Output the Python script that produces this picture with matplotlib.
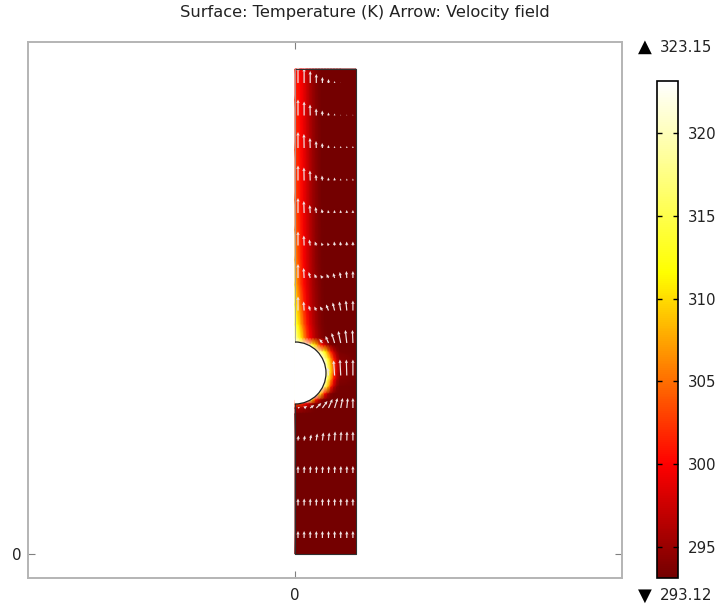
import numpy as np
import matplotlib
matplotlib.use("Agg")
import matplotlib.pyplot as plt
from matplotlib.colors import LinearSegmentedColormap
from matplotlib.patches import Arc, Wedge

# geometry of the channel (same unit on both axes)
channel_width = 61
channel_height = 485
hole_y = 181
hole_r = 31

t_min = 293.12
t_max = 323.15
bar_ticks = [295, 300, 305, 310, 315, 320]

# temperature, rows from top to bottom
temp_x = [0, 3, 6, 9, 12, 15, 18, 21, 24, 27, 30, 33, 36, 39, 42, 45, 61]
temp_y = [485, 454, 404, 354, 324, 294, 269, 249, 229, 216, 209, 202, 195, 188,
          181, 174, 167, 160, 154, 150, 146, 140, 0]
temp = [
    [300.8, 300.4, 299.8, 298.6, 297.2, 295.8, 294.8, 294, 293.5, 293.2, 293.2, 293.2, 293.2, 293.2, 293.2, 293.2, 293.2],
    [301.5, 301, 300, 298.8, 297.4, 296, 294.9, 294.1, 293.5, 293.2, 293.2, 293.2, 293.2, 293.2, 293.2, 293.2, 293.2],
    [302.5, 301.5, 300.3, 299, 297.6, 296.2, 295, 294.2, 293.6, 293.2, 293.2, 293.2, 293.2, 293.2, 293.2, 293.2, 293.2],
    [303.5, 302, 300.6, 299.2, 297.8, 296.4, 295.2, 294.3, 293.7, 293.2, 293.2, 293.2, 293.2, 293.2, 293.2, 293.2, 293.2],
    [305, 302.8, 301, 299.4, 298, 296.6, 295.4, 294.4, 293.8, 293.3, 293.2, 293.2, 293.2, 293.2, 293.2, 293.2, 293.2],
    [307, 304, 301.6, 299.8, 298.2, 296.8, 295.5, 294.5, 293.8, 293.3, 293.2, 293.2, 293.2, 293.2, 293.2, 293.2, 293.2],
    [309.5, 305.5, 302.5, 300.3, 298.5, 297, 295.7, 294.7, 294, 293.4, 293.2, 293.2, 293.2, 293.2, 293.2, 293.2, 293.2],
    [312, 308, 304.5, 301.5, 299.2, 297.4, 296, 294.9, 294.1, 293.5, 293.2, 293.2, 293.2, 293.2, 293.2, 293.2, 293.2],
    [316, 311.5, 307.5, 304, 301, 298.6, 296.8, 295.4, 294.4, 293.7, 293.3, 293.2, 293.2, 293.2, 293.2, 293.2, 293.2],
    [320, 315.5, 311, 306.5, 302.8, 300, 297.8, 296, 294.8, 294, 293.4, 293.2, 293.2, 293.2, 293.2, 293.2, 293.2],
    [323, 323, 323, 323, 323, 318, 313, 308.5, 304, 300.5, 297.5, 295, 293.8, 293.3, 293.2, 293.2, 293.2],
    [323, 323, 323, 323, 323, 323, 323, 323, 320, 316, 311.5, 306, 301, 297, 294.7, 293.5, 293.2],
    [323, 323, 323, 323, 323, 323, 323, 323, 323, 323, 319, 313, 306.5, 301, 296.8, 294.3, 293.2],
    [323, 323, 323, 323, 323, 323, 323, 323, 323, 323, 323, 316, 309, 303, 298, 294.8, 293.2],
    [323, 323, 323, 323, 323, 323, 323, 323, 323, 323, 323, 317, 309.5, 302.5, 297.5, 294.5, 293.2],
    [323, 323, 323, 323, 323, 323, 323, 323, 323, 323, 321, 314.5, 306.5, 300, 296, 294, 293.2],
    [323, 323, 323, 323, 323, 323, 323, 323, 323, 323, 316, 308.5, 301, 296.5, 294, 293.3, 293.2],
    [323, 323, 323, 323, 323, 323, 323, 323, 315, 307, 300, 296, 294, 293.3, 293.2, 293.2, 293.2],
    [323, 323, 323, 323, 323, 317, 308, 301, 297, 294.5, 293.4, 293.2, 293.2, 293.2, 293.2, 293.2, 293.2],
    [303, 303, 302.5, 301, 299, 297, 295, 294, 293.3, 293.2, 293.2, 293.2, 293.2, 293.2, 293.2, 293.2, 293.2],
    [296, 296, 295.6, 295, 294.5, 294, 293.5, 293.2, 293.2, 293.2, 293.2, 293.2, 293.2, 293.2, 293.2, 293.2, 293.2],
    [293.2, 293.2, 293.2, 293.2, 293.2, 293.2, 293.2, 293.2, 293.2, 293.2, 293.2, 293.2, 293.2, 293.2, 293.2, 293.2, 293.2],
    [293.2, 293.2, 293.2, 293.2, 293.2, 293.2, 293.2, 293.2, 293.2, 293.2, 293.2, 293.2, 293.2, 293.2, 293.2, 293.2, 293.2],
]

# velocity arrows: tail positions and length components, rows from top to bottom
arrow_x = [3, 9.1, 15.2, 21.3, 27.4, 33.5, 39.6, 45.7, 51.8, 57.9]
arrow_y = [471, 438.5, 406, 373.5, 341, 308.5, 276, 243.5, 211, 178.5, 146, 113.5, 81, 48.5, 16]
nan = float("nan")
arrow_v = [
    [16, 15, 12, 9, 6, 4, 2, 0.5, nan, nan],
    [16, 14, 11, 7, 5, 3, 2, 1, 1, 1],
    [16, 14, 10, 7, 5, 3, 2, 2, 2, 2],
    [15, 13, 10, 6, 5, 3, 3, 2, 2, 2],
    [15, 12, 8, 6, 4, 3, 3, 3, 3, 3],
    [14, 10, 6, 4, 3, 3, 4, 4, 4, 4],
    [14, 10, 6, 4, 3, 4, 5, 6, 7, 7],
    [14, 9, 5, 4, 4, 6, 8, 9, 10, 10],
    [nan, nan, nan, nan, 4, 7, 10, 12, 13, 13],
    [nan, nan, nan, nan, nan, 8, 15, 16, 16, 16],
    [1, 2, 3, 5, 7, 9, 10, 10, 10, 10],
    [5, 5, 6, 7, 8, 8, 9, 9, 9, 9],
    [7, 7, 7, 7, 7, 7, 7, 7, 7, 7],
    [7, 7, 7, 7, 7, 7, 7, 7, 7, 7],
    [7, 7, 7, 7, 7, 7, 7, 7, 7, 7],
]
arrow_u = [
    [0, 0, 0, 0, 0, 0, 0, 0, nan, nan],
    [0, 0, -0.2, -0.2, -0.2, -0.2, 0, 0, 0, 0],
    [0, -0.2, -0.3, -0.3, -0.3, -0.2, -0.2, 0, 0, 0],
    [0, -0.2, -0.3, -0.5, -0.5, -0.3, -0.2, -0.2, 0, 0],
    [0, -0.3, -0.5, -0.8, -0.8, -0.5, -0.3, -0.2, -0.1, 0],
    [0, -0.3, -1, -1.5, -1, -1, -0.5, -0.5, -0.2, 0],
    [0, -0.5, -1.5, -2, -2, -2, -1.5, -1, -0.5, 0],
    [0, -0.5, -1.5, -2, -2.5, -2.5, -2, -1.5, -1, 0],
    [nan, nan, nan, nan, -3, -3, -3, -2.5, -1.5, -0.5],
    [nan, nan, nan, nan, nan, -1, -1, -0.8, -0.5, 0],
    [2, 3, 4, 5, 5, 4, 3, 2, 1, 0],
    [0.5, 0.8, 1, 1, 1, 0.8, 0.5, 0.5, 0.2, 0],
    [0, 0.2, 0.3, 0.3, 0.3, 0.3, 0.2, 0.2, 0.1, 0],
    [0, 0.1, 0.1, 0.1, 0.1, 0.1, 0.1, 0.1, 0.1, 0],
    [0, 0, 0, 0, 0, 0, 0, 0, 0, 0],
]

W, H = 717, 607


def px_axes(left, top, right, bottom):
    return fig.add_axes([left / W, 1 - bottom / H, (right - left) / W, (bottom - top) / H])


thermal = LinearSegmentedColormap.from_list(
    "thermal_light",
    [(0, "#740000"), (0.229, "#ff0000"), (0.615, "#ffff00"), (1, "#ffffff")],
)

fig = plt.figure(figsize=(W / 100, H / 100), dpi=100)
ax = px_axes(28, 42, 622, 578)

mesh = ax.pcolormesh(temp_x, temp_y, np.array(temp), shading="gouraud", cmap=thermal, vmin=t_min, vmax=t_max)
ax.add_patch(Wedge((0, hole_y), hole_r, -90, 90, facecolor="white", edgecolor="none", zorder=3))

X, Y = np.meshgrid(arrow_x, arrow_y)
ax.quiver(X, Y, np.array(arrow_u), np.array(arrow_v), angles="xy", scale_units="xy", scale=1,
          color="#f0e4e4", units="dots", width=1.2, headwidth=2.8, headlength=3, headaxislength=2.6,
          minlength=0.1, zorder=4)

# domain outline with the half circle cut out of the wall
ax.plot([0, channel_width, channel_width, 0, 0],
        [channel_height, channel_height, 0, 0, hole_y - hole_r],
        color="#303030", lw=0.8, zorder=5)
ax.plot([0, 0], [hole_y + hole_r, channel_height], color="#a0a0a0", lw=0.6, zorder=5)
ax.add_patch(Arc((0, hole_y), 2 * hole_r, 2 * hole_r, theta1=-90, theta2=90, color="#202020", lw=0.9, zorder=5))

ax.set_xlim(-267, 327)
ax.set_ylim(-24, 512)
ax.set_aspect("auto")
ax.set_xticks([0])
ax.set_yticks([0])
ax.tick_params(direction="in", length=5, width=0.8, color="#808080", top=True, right=True,
               labelsize=10.8, pad=5, labelcolor="#222222")
ax.tick_params(axis="x", pad=7)
for spine in ax.spines.values():
    spine.set_color("#b4b4b4")
    spine.set_linewidth(1.4)

fig.text(365 / W, 1 - 13 / H, "Surface: Temperature (K) Arrow: Velocity field",
         ha="center", va="center", fontsize=11.7, color="#222222")

cax = px_axes(657, 81, 678, 578)
cbar = fig.colorbar(mesh, cax=cax)
cbar.set_ticks(bar_ticks)
cbar.outline.set_linewidth(1.2)
cax.tick_params(direction="in", length=3.5, width=1, left=True, right=True, labelsize=10.8, pad=7,
                labelcolor="#222222")

fig.text(645 / W, 1 - 47 / H, "\u25b2", ha="center", va="center", fontsize=13, color="black")
fig.text(660 / W, 1 - 47 / H, "%.2f" % t_max, ha="left", va="center", fontsize=10.8, color="#222222")
fig.text(645 / W, 1 - 596 / H, "\u25bc", ha="center", va="center", fontsize=13, color="black")
fig.text(660 / W, 1 - 596 / H, "%.2f" % t_min, ha="left", va="center", fontsize=10.8, color="#222222")

fig.savefig("out.png", dpi=100)
